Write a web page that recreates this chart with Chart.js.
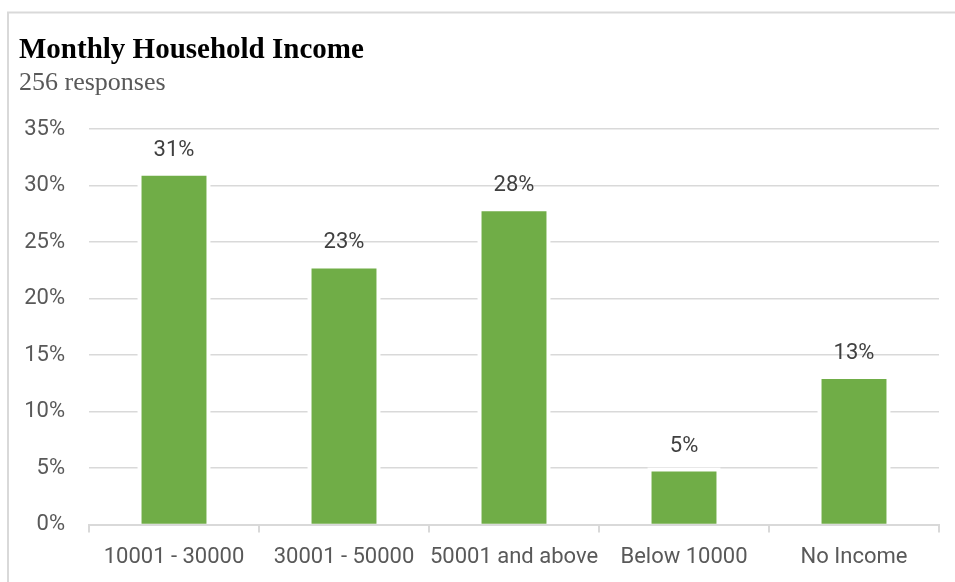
<!DOCTYPE html>
<html>
<head>
<meta charset="utf-8">
<script src="https://cdn.jsdelivr.net/npm/chart.js@4"></script>
<style>
  html, body { margin: 0; padding: 0; background: #ffffff; }
  #wrap { width: 955px; height: 582px; position: relative; }
</style>
</head>
<body>
<div id="wrap"><canvas id="chart" width="955" height="582"></canvas></div>
<script>
// Monthly household income survey (256 responses), share of respondents in %
const categories = ['10001 - 30000', '30001 - 50000', '50001 and above', 'Below 10000', 'No Income'];
const shares = [30.86, 22.66, 27.73, 4.69, 12.89];
const yTicks = [0, 5, 10, 15, 20, 25, 30, 35];

const titleText = 'Monthly Household Income';
const subtitleText = '256 responses';

const GRID = '#d9d9d9';
const BAR = '#70ad47';
const TICK_TEXT = '#595959';
const LABEL_TEXT = '#404040';

// Light frame along the top and left edges of the panel
const framePlugin = {
  id: 'frame',
  beforeDraw(chart) {
    const ctx = chart.ctx;
    ctx.save();
    ctx.strokeStyle = GRID;
    ctx.lineWidth = 2;
    ctx.beginPath();
    ctx.moveTo(8, chart.height);
    ctx.lineTo(8, 12.5);
    ctx.lineTo(chart.width, 12.5);
    ctx.stroke();
    ctx.restore();
  }
};

// White halo behind each bar so gridlines stop short of the bars
const barGapPlugin = {
  id: 'barGap',
  beforeDatasetsDraw(chart) {
    const ctx = chart.ctx;
    const meta = chart.getDatasetMeta(0);
    ctx.save();
    ctx.fillStyle = '#ffffff';
    meta.data.forEach(bar => {
      const p = bar.getProps(['x', 'y', 'base', 'width'], true);
      ctx.fillRect(p.x - p.width / 2 - 4, p.y - 4, p.width + 8, p.base - p.y + 4);
    });
    ctx.restore();
  }
};

// Percentage label above each bar
const valueLabelPlugin = {
  id: 'valueLabels',
  afterDatasetsDraw(chart) {
    const ctx = chart.ctx;
    const meta = chart.getDatasetMeta(0);
    const values = chart.data.datasets[0].data;
    ctx.save();
    ctx.font = '22px Roboto';
    ctx.fillStyle = LABEL_TEXT;
    ctx.textAlign = 'center';
    ctx.textBaseline = 'alphabetic';
    meta.data.forEach((bar, i) => {
      const p = bar.getProps(['x', 'y'], true);
      ctx.fillText(Math.round(values[i]) + '%', p.x, p.y - 20);
    });
    ctx.restore();
  }
};

new Chart(document.getElementById('chart'), {
  type: 'bar',
  data: {
    labels: categories,
    datasets: [{
      data: shares,
      backgroundColor: BAR,
      borderWidth: 0,
      categoryPercentage: 0.382,
      barPercentage: 1
    }]
  },
  options: {
    responsive: false,
    animation: false,
    devicePixelRatio: 1,
    layout: { padding: { left: 19, right: 16, top: 0, bottom: -1 } },
    plugins: {
      legend: { display: false },
      tooltip: { enabled: false },
      title: {
        display: true,
        text: titleText,
        align: 'start',
        color: '#000000',
        font: { family: 'Liberation Serif', size: 29, weight: 'bold', lineHeight: 1.2 },
        padding: { top: 33, bottom: 0 }
      },
      subtitle: {
        display: true,
        text: subtitleText,
        align: 'start',
        color: TICK_TEXT,
        font: { family: 'Liberation Serif', size: 26, weight: 'normal', lineHeight: 1.2 },
        padding: { top: 0, bottom: 30 }
      }
    },
    scales: {
      x: {
        grid: {
          display: true,
          drawOnChartArea: false,
          drawTicks: true,
          tickLength: 8,
          color: GRID,
          lineWidth: 2
        },
        border: { display: true, color: GRID, width: 2 },
        ticks: {
          color: TICK_TEXT,
          font: { family: 'Roboto', size: 22 },
          padding: 12,
          maxRotation: 0,
          autoSkip: false
        }
      },
      y: {
        min: yTicks[0],
        max: yTicks[yTicks.length - 1],
        afterBuildTicks(scale) {
          scale.ticks = yTicks.map(v => ({ value: v }));
        },
        afterFit(scale) { scale.width = 70; },
        grid: { color: GRID, lineWidth: 1.5, drawTicks: false },
        border: { display: false },
        ticks: {
          color: TICK_TEXT,
          font: { family: 'Roboto', size: 22 },
          padding: 24,
          callback: v => v + '%'
        }
      }
    }
  },
  plugins: [framePlugin, barGapPlugin, valueLabelPlugin]
});
</script>
</body>
</html>
